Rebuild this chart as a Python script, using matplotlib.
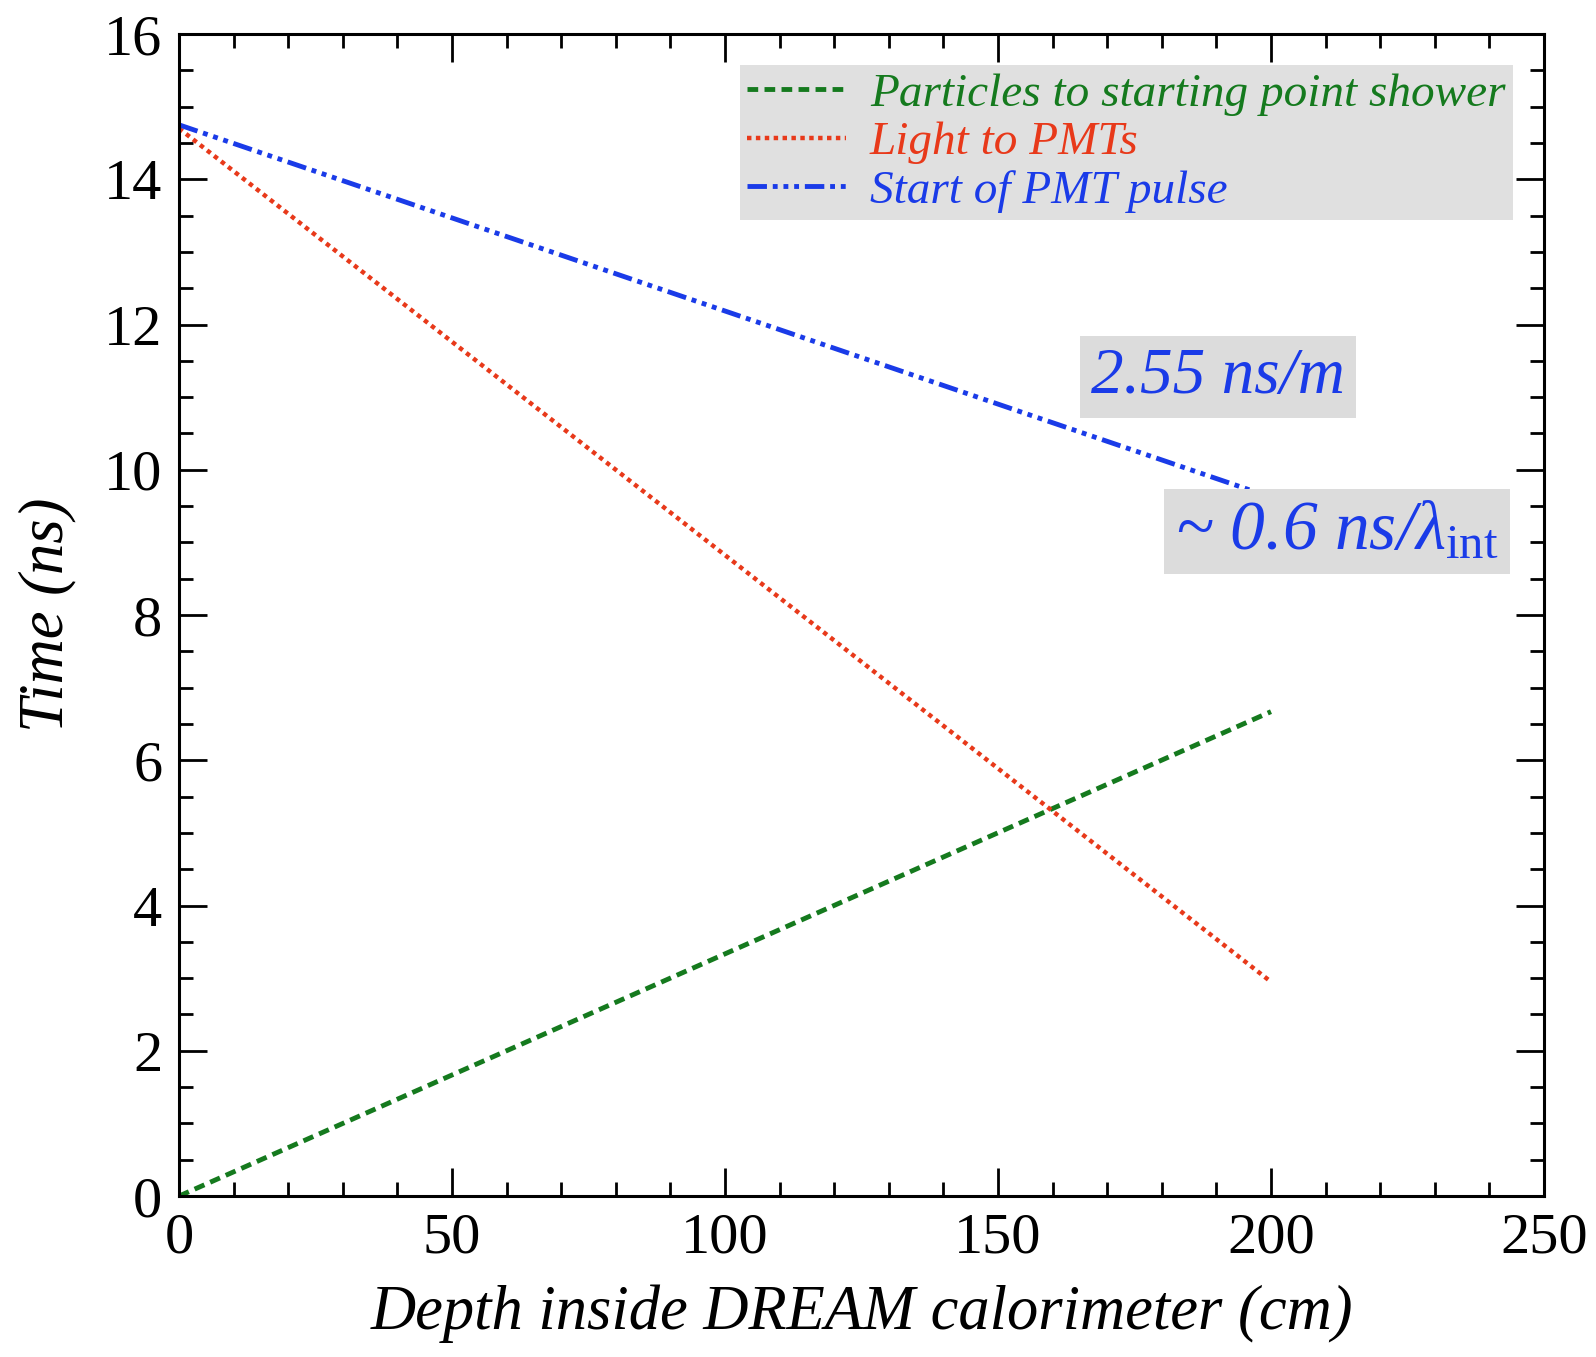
import matplotlib
matplotlib.use("Agg")
import matplotlib.pyplot as plt
from matplotlib.ticker import MultipleLocator

# Data
depth_particles = [0, 200]
t_particles = [0.0, 6.67]
depth_light = [0, 200]
t_light = [14.7, 2.95]
depth_pulse = [0, 197]
t_pulse = [14.75, 9.7]

labels = ["Particles to starting point shower", "Light to PMTs", "Start of PMT pulse"]
colors = ["#157a1e", "#e8391a", "#1a3be8"]

plt.rcParams['font.family'] = ['Liberation Serif', 'DejaVu Serif']
plt.rcParams['mathtext.fontset'] = 'custom'
plt.rcParams['mathtext.rm'] = 'Liberation Serif'
plt.rcParams['mathtext.it'] = 'Liberation Serif:italic'

fig = plt.figure(figsize=(15.96, 13.57), dpi=100)
ax = fig.add_axes([0.1122, 0.1186, 0.8552, 0.8563])

l1, = ax.plot(depth_particles, t_particles, color=colors[0], lw=3.5, linestyle=(0, (2.2, 1.3)))
l2, = ax.plot(depth_light, t_light, color=colors[1], lw=3.2, linestyle=(0, (1.0, 1.0)))
l3, = ax.plot(depth_pulse, t_pulse, color=colors[2], lw=3.5, linestyle=(0, (4, 1.2, 1, 1.2, 1, 1.2, 1, 1.2)))

ax.set_xlim(0, 250)
ax.set_ylim(0, 16)
ax.xaxis.set_major_locator(MultipleLocator(50))
ax.xaxis.set_minor_locator(MultipleLocator(10))
ax.yaxis.set_major_locator(MultipleLocator(2))
ax.yaxis.set_minor_locator(MultipleLocator(0.5))
ax.tick_params(which='both', direction='in', top=True, right=True, width=2, labelsize=42, colors='black')
ax.tick_params(which='major', length=20, pad=12)
ax.tick_params(which='minor', length=10)
for s in ax.spines.values():
    s.set_linewidth(2.2)

ax.set_xlabel("Depth inside DREAM calorimeter (cm)", fontsize=45, style='italic', labelpad=14)
ax.set_ylabel("Time (ns)", fontsize=45, style='italic', labelpad=20)

leg = ax.legend([l1, l2, l3], labels, loc='upper right', bbox_to_anchor=(0.977, 0.973),
                prop={'style': 'italic', 'size': 34}, frameon=True, fancybox=False,
                handlelength=2.1, handletextpad=0.5, labelspacing=0.12, borderpad=0.15,
                borderaxespad=0.0)
leg.get_frame().set_facecolor('#e0e0e0')
leg.get_frame().set_edgecolor('none')
leg.get_frame().set_alpha(1)
for txt, c in zip(leg.get_texts(), colors):
    txt.set_color(c)

bbox = dict(facecolor='#dcdcdc', edgecolor='none', pad=8)
ax.text(0.668, 0.705, "2.55 ns/m", transform=ax.transAxes, fontsize=47, style='italic',
        color=colors[2], bbox=bbox, va='center', ha='left')
ax.text(0.73, 0.572, r"~ 0.6 ns/$\lambda_{\mathrm{int}}$", transform=ax.transAxes, fontsize=50,
        style='italic', color=colors[2], bbox=bbox, va='center', ha='left')

fig.savefig("out.png", dpi=100)
